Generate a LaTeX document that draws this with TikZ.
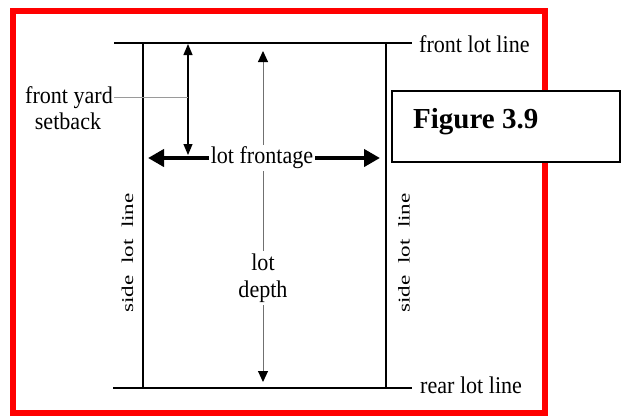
\documentclass[tikz,border=0pt]{standalone}
\usepackage{fontspec}
\setmainfont{Liberation Serif}
\newfontfamily\sidefont[FakeStretch=1.4]{Liberation Serif}
\newfontfamily\lblfont[FakeStretch=0.92]{Liberation Serif}
\usetikzlibrary{arrows.meta}
\definecolor{leadgray}{HTML}{9A9A9A}
\definecolor{depthgray}{HTML}{707070}
\newcommand\widewordspace{\spaceskip=0.7em\relax}
\tikzset{
  lotline/.style={line width=1.7pt, black},
  lbl/.style={font=\lblfont\fontsize{24}{27}\selectfont, inner sep=1pt},
  sidelbl/.style={font=\sidefont\fontsize{16.5}{18}\selectfont, execute at begin node=\widewordspace, inner sep=0pt, rotate=90},
  setbackarrow/.style={line width=1.2pt, black, {Triangle[width=9pt,length=11pt]}-{Triangle[width=9pt,length=11pt]}},
  deptharrow/.style={line width=1pt, depthgray, {Triangle[width=10pt,length=11pt,color=black]}-{Triangle[width=10pt,length=11pt,color=black]}},
  frontagearrow/.style={line width=4pt, black, -{Triangle[width=17pt,length=16pt]}},
  leader/.style={line width=0.8pt, leadgray},
  figbox/.style={draw=black, line width=2pt, fill=white, minimum width=228pt, minimum height=71pt, inner sep=0pt},
}
\begin{document}
\begin{tikzpicture}[x=1pt,y=-1pt]
\useasboundingbox (0,0) rectangle (624,416);
% red frame
\draw[red, line width=6pt] (12.5,10.5) rectangle (544.5,413);
% lot lines
\coordinate (TL) at (114,43);
\coordinate (TR) at (412,43);
\coordinate (BL) at (113,388);
\coordinate (BR) at (412,388);
\coordinate (SLt) at (143,43);
\coordinate (SLb) at (143,388);
\coordinate (SRt) at (386,43);
\coordinate (SRb) at (386,388);
\draw[lotline] (TL) -- (TR);
\draw[lotline] (BL) -- (BR);
\draw[lotline] (SLt) -- (SLb);
\draw[lotline] (SRt) -- (SRb);
% lot depth arrow (drawn beneath labels)
\coordinate (Dt) at (263,51);
\coordinate (Db) at (263,382);
\draw[deptharrow] (Dt) -- (Db);
% front yard setback arrow
\coordinate (St) at (188,44);
\coordinate (Sb) at (188,155);
\draw[setbackarrow] (St) -- (Sb);
% labels
\node[lbl, anchor=base west] (flt) at (418,52) {front lot line};
\node[lbl, anchor=base west] (rlt) at (419,393) {rear lot line};
\node[lbl, anchor=base] (fy1) at (69,103) {front yard};
\node[lbl, anchor=base] (fy2) at (68,129) {setback};
\draw[leader] (fy1.east) -- (St |- fy1.east);
\node[lbl, fill=white, inner sep=2pt] (lf) at (262,158) {lot frontage};
\coordinate (Fl) at (148,158);
\coordinate (Fr) at (380,158);
\draw[frontagearrow] (lf.west |- Fl) -- (Fl);
\draw[frontagearrow] (lf.east |- Fr) -- (Fr);
\node[lbl, fill=white, inner sep=3pt, align=center] (ld) at (263,278) {lot\\depth};
\node[sidelbl] (sl1) at (127.5,253) {side lot line};
\node[sidelbl] (sl2) at (404,253) {side lot line};
% figure box
\node[figbox] (fig) at (506,126.5) {};
\node[font=\bfseries\fontsize{29}{32}\selectfont, anchor=base west, inner sep=0pt] (figtxt) at (413,128) {Figure 3.9};
\end{tikzpicture}
\end{document}
